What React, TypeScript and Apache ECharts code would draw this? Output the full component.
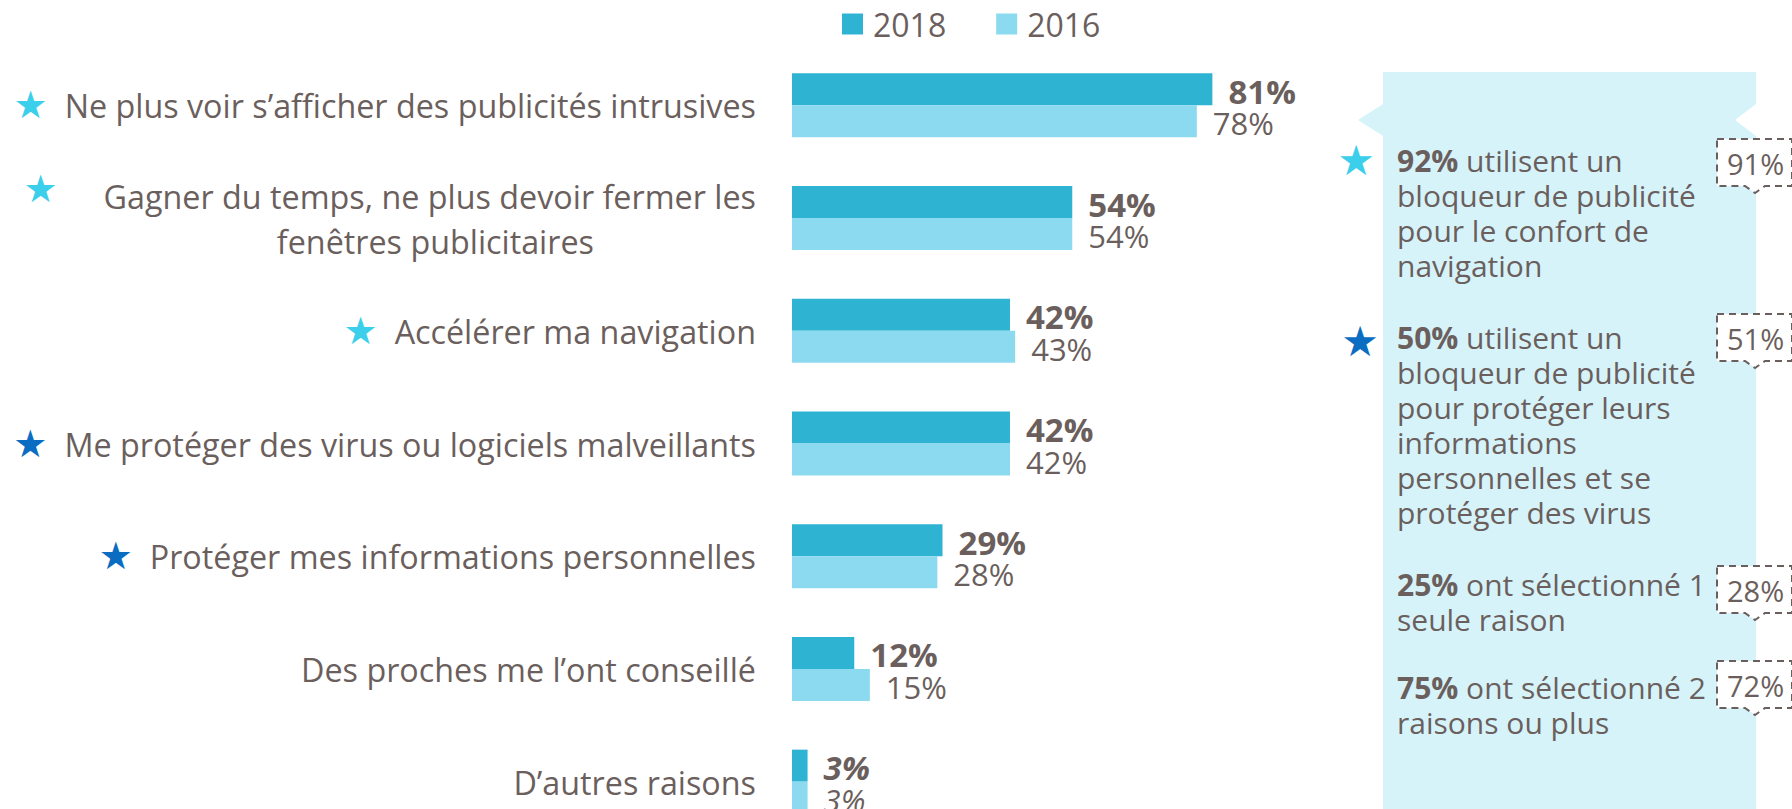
import React, { useEffect, useRef } from 'react';
import * as echarts from 'echarts';

const categories = [
  'Ne plus voir s’afficher des publicités intrusives',
  'Gagner du temps, ne plus devoir fermer les\nfenêtres publicitaires',
  'Accélérer ma navigation',
  'Me protéger des virus ou logiciels malveillants',
  'Protéger mes informations personnelles',
  'Des proches me l’ont conseillé',
  'D’autres raisons',
];
const values2018 = [81, 54, 42, 42, 29, 12, 3];
const values2016 = [78, 54, 43, 42, 28, 15, 3];
const seriesNames = ['2018', '2016'];
const starKinds = ['light', 'light', 'light', 'dark', 'dark', '', ''];

const noteBold = ['92%', '50%', '25%', '75%'];
const noteText = [
  ' utilisent un\nbloqueur de publicité\npour le confort de\nnavigation',
  ' utilisent un\nbloqueur de publicité\npour protéger leurs\ninformations\npersonnelles et se\nprotéger des virus',
  ' ont sélectionné 1\nseule raison',
  ' ont sélectionné 2\nraisons ou plus',
];
const notePrev = ['91%', '51%', '28%', '72%'];
const noteStars = ['light', 'dark', '', ''];

const FONT = '"Open Sans", "Noto Sans", sans-serif';
const STAR_FONT = '"DejaVu Sans", sans-serif';
const TEXT = '#6b5f5d';
const C2018 = '#2eb4d2';
const C2016 = '#8cdaf0';
const STAR_LIGHT = '#3ccfec';
const STAR_DARK = '#0a6dc2';
const PANEL = '#d6f3fa';

export default function App() {
  const ref = useRef<HTMLDivElement>(null);
  useEffect(() => {
    if (!ref.current) return;
    const chart = echarts.init(ref.current, null, { renderer: 'svg' });

    const noteTops = [143, 320, 567, 670];
    const boxTops = [139, 314, 566, 661];
    const starPos = [[1356, 160], [1360, 341]];

    const graphic: any[] = [
      {
        type: 'polygon',
        z: -10,
        shape: {
          points: [
            [1383, 72], [1756, 72], [1756, 104], [1735, 120], [1756, 136],
            [1756, 809], [1383, 809], [1383, 136], [1358, 120], [1383, 104],
          ],
        },
        style: { fill: PANEL },
        silent: true,
      },
    ];
    noteBold.forEach((b, i) => {
      graphic.push({
        type: 'text',
        x: 1397,
        y: noteTops[i],
        style: {
          text: `{b|${b}}${noteText[i]}`,
          fontSize: 30,
          fontFamily: FONT,
          fill: TEXT,
          lineHeight: 35,
          align: 'left',
          verticalAlign: 'top',
          rich: {
            b: { fontSize: 30, fontFamily: FONT, fontWeight: 'bold', fill: TEXT, lineHeight: 35 },
          },
        },
      });
      const t = boxTops[i];
      graphic.push({
        type: 'polygon',
        shape: {
          points: [
            [1717, t], [1792, t], [1792, t + 47], [1765, t + 47], [1755, t + 54],
            [1745, t + 47], [1717, t + 47],
          ],
        },
        style: { fill: '#ffffff', stroke: TEXT, lineWidth: 2, lineDash: [7, 5] },
      });
      graphic.push({
        type: 'text',
        x: 1727,
        y: t + 24,
        style: {
          text: notePrev[i],
          fontSize: 29,
          fontFamily: FONT,
          fill: TEXT,
          align: 'left',
          verticalAlign: 'middle',
        },
      });
      if (noteStars[i]) {
        graphic.push({
          type: 'text',
          x: starPos[i][0],
          y: starPos[i][1],
          style: {
            text: '★',
            fontSize: 42,
            fontFamily: STAR_FONT,
            fill: noteStars[i] === 'light' ? STAR_LIGHT : STAR_DARK,
            align: 'center',
            verticalAlign: 'middle',
          },
        });
      }
    });

    const labelBase = { fontSize: 32.3, fontFamily: FONT, color: TEXT };
    const starBase = { fontSize: 38, fontFamily: STAR_FONT, lineHeight: 45 };

    chart.setOption({
      animation: false,
      textStyle: { fontFamily: FONT },
      legend: {
        data: seriesNames,
        left: 837,
        top: 3,
        itemWidth: 21,
        itemHeight: 21,
        itemGap: 50,
        icon: 'rect',
        textStyle: { fontSize: 32, color: TEXT, fontFamily: FONT, padding: [0, 0, 0, 5] },
      },
      grid: { left: 792, width: 519, top: 49, bottom: -29, containLabel: false, outerBoundsMode: 'none' },
      xAxis: { type: 'value', min: 0, max: 100, show: false },
      yAxis: {
        type: 'category',
        inverse: true,
        data: categories,
        axisLine: { show: false },
        axisTick: { show: false },
        splitLine: { show: false },
        axisLabel: {
          margin: 36,
          formatter: (value: string, idx: number) => {
            const lines = value.split('\n');
            const kind = starKinds[idx];
            let first = `{t|${lines[0]}}`;
            if (kind) {
              const key = (kind === 'light' ? 'sl' : 'sd') + (lines.length > 1 ? 'w' : '');
              first = `{${key}|★}` + first;
            }
            const rest = lines.slice(1).map((l) => `{t2|${l}}`);
            return [first, ...rest].join('\n');
          },
          rich: {
            t: { ...labelBase, align: 'right', lineHeight: 45 },
            t2: { ...labelBase, align: 'right', lineHeight: 45, padding: [0, 162, 0, 0] },
            sl: { ...starBase, color: STAR_LIGHT, padding: [0, 17, 0, 0] },
            sd: { ...starBase, color: STAR_DARK, padding: [0, 17, 0, 0] },
            slw: { ...starBase, color: STAR_LIGHT, padding: [0, 46, 14, 0] },
          },
        },
      },
      series: [
        {
          name: seriesNames[0],
          type: 'bar',
          barWidth: 32,
          barGap: '0%',
          itemStyle: { color: C2018 },
          label: {
            show: true,
            position: 'right',
            distance: 16,
            offset: [0, 2],
            formatter: '{c}%',
            fontSize: 33,
            lineHeight: 28,
            fontWeight: 'bold',
            fontFamily: FONT,
            color: TEXT,
          },
          data: values2018.map((v, i) =>
            i === values2018.length - 1 ? { value: v, label: { fontStyle: 'italic' } } : v
          ),
        },
        {
          name: seriesNames[1],
          type: 'bar',
          barWidth: 32,
          barGap: '0%',
          itemStyle: { color: C2016 },
          label: {
            show: true,
            position: 'right',
            distance: 16,
            offset: [0, 2],
            formatter: '{c}%',
            fontSize: 31,
            lineHeight: 28,
            fontFamily: FONT,
            color: TEXT,
          },
          data: values2016.map((v, i) =>
            i === values2016.length - 1 ? { value: v, label: { fontStyle: 'italic' } } : v
          ),
        },
      ],
      graphic,
    });
    return () => chart.dispose();
  }, []);

  return (
    <div
      ref={ref}
      style={{ position: 'absolute', left: 0, top: 0, width: 1792, height: 809 }}
    />
  );
}
